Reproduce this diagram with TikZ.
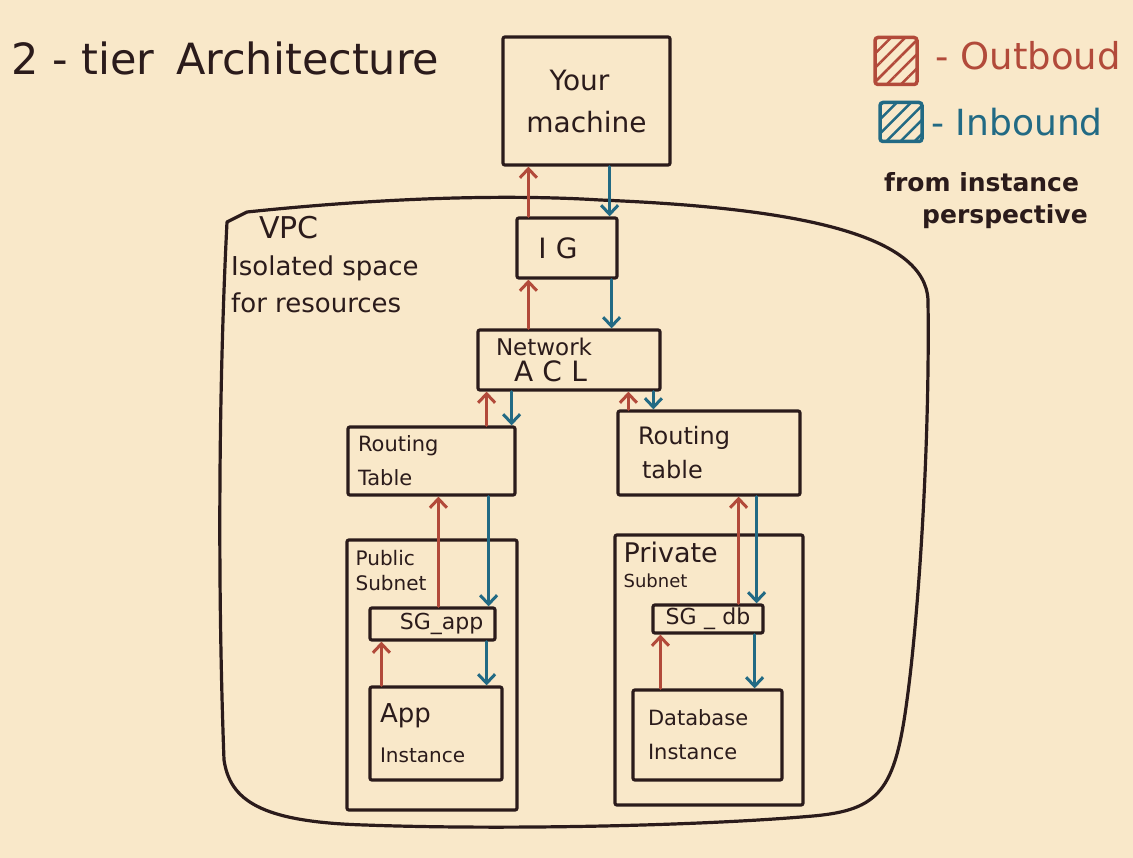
\documentclass[tikz,border=0pt]{standalone}
\usepackage{fontspec}
\setmainfont{DejaVu Sans}
\usetikzlibrary{arrows.meta,patterns.meta}
\definecolor{paper}{HTML}{F9E8C9}
\definecolor{ink}{HTML}{2B1B1B}
\definecolor{outred}{HTML}{B24A3A}
\definecolor{inblue}{HTML}{226A84}
\newcommand{\fsz}[2]{\fontsize{#1}{#2}\selectfont}
\tikzset{
  box/.style={draw=ink, line width=3.2pt, rounded corners=2pt, inner sep=0pt, text=ink},
  leftbox/.style={box, align=left, inner xsep=10pt},
  outb/.style={draw=outred, line width=3pt, line cap=round, -{Straight Barb[length=9pt,width=17pt]}},
  inb/.style={draw=inblue, line width=3pt, line cap=round, -{Straight Barb[length=9pt,width=17pt]}},
  keybox/.style={line width=3.5pt, rounded corners=3pt, minimum width=42pt}
}
\begin{document}
\begin{tikzpicture}[x=1pt,y=-1pt]
\fill[paper] (0,0) rectangle (1133,858);
\useasboundingbox (0,0) rectangle (1133,858);

% title and legend
\node[anchor=west, text=ink, font=\fsz{43}{50}] (title) at (8,58) {2 - tier\enspace Architecture};
\node[keybox, draw=outred, minimum height=47pt, pattern={Lines[angle=45,distance=10pt,line width=2.5pt]}, pattern color=outred] (outkey) at (896,61) {};
\node[keybox, draw=inblue, minimum height=39pt, pattern={Lines[angle=45,distance=10pt,line width=2.5pt]}, pattern color=inblue] (inkey) at (901,122) {};
\node[anchor=west, text=outred, font=\fsz{37}{40}] (outtxt) at (932,56) {- Outboud};
\node[anchor=west, text=inblue, font=\fsz{36}{40}] (intxt) at (928,122) {- Inbound};
\node[anchor=north west, align=left, text=ink, font=\bfseries\fsz{25}{32}, inner sep=0pt] (persp) at (884,172) {from instance\\\hspace*{38pt}perspective};

% VPC outline
\draw[ink, line width=3.2pt, line join=round]
  (227,222) -- (247,212) .. controls (400,196) and (520,195) .. (600,200)
  .. controls (800,208) and (925,235) .. (928,300)
  .. controls (930,450) and (918,620) .. (907,700)
  .. controls (895,790) and (880,810) .. (813,816)
  .. controls (700,826) and (500,830) .. (365,825)
  .. controls (260,822) and (230,800) .. (224,760)
  .. controls (218,600) and (218,400) .. (227,222) -- cycle;
\node[anchor=north west, align=left, text=ink, font=\fsz{26}{37}, inner sep=0pt] (vpctxt) at (231,216)
  {\hspace*{28pt}{\fsz{30}{37}VPC}\\Isolated space\\for resources};

% boxes
\node[box, minimum width=167pt, minimum height=128pt, align=center, font=\fsz{28}{42}] (mach) at (586.5,101) {Your\hspace*{14pt}\\machine};
\node[box, minimum width=100pt, minimum height=60pt, font=\fsz{28}{34}] (ig) at (567,248) {I\,\,G\hspace*{18pt}};
\node[leftbox, inner xsep=18pt, text width=146pt, minimum height=60pt, font=\fsz{23}{26}] (acl) at (569,360) {Network\\\hspace*{18pt}{\fsz{28}{30}A\,\,C\,\,L}};
\node[leftbox, text width=147pt, minimum height=68pt, font=\fsz{21}{34}] (rtl) at (431.5,461) {Routing\\Table};
\node[leftbox, text width=162pt, minimum height=84pt, font=\fsz{24}{34}] (rtr) at (709,453) {\hspace*{10pt}Routing\\\hspace*{14pt}table};

% subnets
\node[box, minimum width=170pt, minimum height=270pt,
  label={[anchor=north west, align=left, text=ink, font=\fsz{20}{25}, inner sep=0pt, xshift=10pt, yshift=-12pt]north west:{Public\\Subnet}}] (pub) at (432,675) {};
\node[box, minimum width=188pt, minimum height=270pt,
  label={[anchor=north west, align=left, text=ink, font=\fsz{18}{25}, inner sep=0pt, xshift=10pt, yshift=-8pt]north west:{{\fsz{27}{25}Private}\\Subnet}}] (priv) at (709,670) {};
\node[box, minimum width=125pt, minimum height=32pt, font=\fsz{22}{24}] (sgapp) at (432.5,624) {\hspace*{18pt}SG\_app};
\node[box, minimum width=110pt, minimum height=28pt, font=\fsz{22}{24}] (sgdb) at (708,619) {SG\,\,\_\,\,db};
\node[leftbox, text width=112pt, minimum height=93pt, font=\fsz{20}{40}] (app) at (436,733.5) {{\fsz{26}{40}App}\\Instance};
\node[leftbox, inner xsep=15pt, text width=119pt, minimum height=90pt, font=\fsz{21}{34}] (db) at (707.5,735) {Database\\Instance};

% traffic
\draw[outb] ([xshift=13pt]ig.north west) -- ([xshift=13pt]ig.north west |- mach.south);
\draw[inb] ([xshift=-9pt]ig.north east |- mach.south) -- ([xshift=-9pt]ig.north east);
\draw[outb] ([xshift=13pt]ig.south west |- acl.north) -- ([xshift=13pt]ig.south west);
\draw[inb] ([xshift=-7pt]ig.south east) -- ([xshift=-7pt]ig.south east |- acl.north);
\draw[outb] ([xshift=-30pt]rtl.north east) -- ([xshift=-30pt]rtl.north east |- acl.south);
\draw[inb] ([xshift=-5pt]rtl.north east |- acl.south) -- ([xshift=-5pt]rtl.north east);
\draw[outb] ([xshift=12pt]rtr.north west) -- ([xshift=12pt]rtr.north west |- acl.south);
\draw[inb] ([xshift=37pt]rtr.north west |- acl.south) -- ([xshift=37pt]rtr.north west);
\draw[outb] ([xshift=70pt]sgapp.north west) -- ([xshift=70pt]sgapp.north west |- rtl.south);
\draw[inb] ([xshift=-8pt]sgapp.north east |- rtl.south) -- ([xshift=-8pt]sgapp.north east);
\draw[outb] ([xshift=13pt]app.north west) -- ([xshift=13pt]app.north west |- sgapp.south);
\draw[inb] ([xshift=-17pt]app.north east |- sgapp.south) -- ([xshift=-17pt]app.north east);
\draw[outb] ([xshift=-26pt]sgdb.north east) -- ([xshift=-26pt]sgdb.north east |- rtr.south);
\draw[inb] ([xshift=-8pt]sgdb.north east |- rtr.south) -- ([xshift=-8pt]sgdb.north east);
\draw[outb] ([xshift=9pt]sgdb.south west |- db.north) -- ([xshift=9pt]sgdb.south west);
\draw[inb] ([xshift=-10pt]sgdb.south east) -- ([xshift=-10pt]sgdb.south east |- db.north);
\end{tikzpicture}
\end{document}
